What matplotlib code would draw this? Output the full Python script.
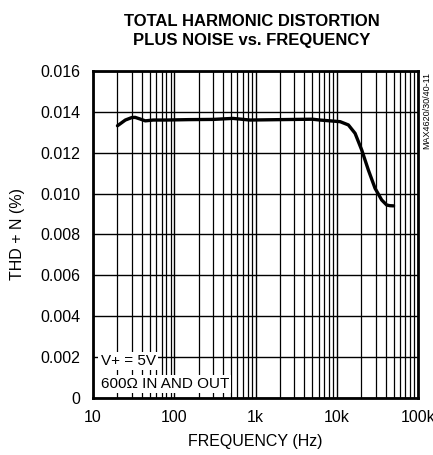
import matplotlib
matplotlib.use("Agg")
import matplotlib.pyplot as plt
import numpy as np

# ===== データ =====
freq_hz = [20, 25, 30, 33, 38, 44, 55, 80, 150, 300, 525, 855, 2000, 5000, 6200, 11000,
           13900, 16800, 20300, 24500, 29600, 35700, 41200, 45000, 50000]
thd_pct = [0.01332, 0.01360, 0.01372, 0.01373, 0.01365, 0.01356, 0.01360, 0.01360, 0.01362,
           0.01363, 0.01368, 0.01360, 0.01362, 0.01364, 0.01360, 0.01352,
           0.01336, 0.01295, 0.01213, 0.01115, 0.01026, 0.00969, 0.00944, 0.00941, 0.00940]
x_ticks = [10, 100, 1000, 10000, 100000]
x_labels = ["10", "100", "1k", "10k", "100k"]
y_ticks = [0, 0.002, 0.004, 0.006, 0.008, 0.010, 0.012, 0.014, 0.016]
y_labels = ["0", "0.002", "0.004", "0.006", "0.008", "0.010", "0.012", "0.014", "0.016"]

plt.rcParams["font.family"] = ["Liberation Sans", "DejaVu Sans"]

fig = plt.figure(figsize=(4.33, 4.55), dpi=100)
ax = fig.add_axes([0.2148, 0.1253, 0.7506, 0.7187])

ax.plot(freq_hz, thd_pct, color="black", lw=2.4, solid_capstyle="round", zorder=3)

ax.set_xscale("log")
ax.set_xlim(10, 100000)
ax.set_ylim(0, 0.016)
ax.set_xticks(x_ticks)
ax.set_xticklabels(x_labels)
ax.set_yticks(y_ticks)
ax.set_yticklabels(y_labels)
ax.xaxis.set_minor_locator(matplotlib.ticker.LogLocator(base=10, subs=np.arange(2, 10)))
ax.xaxis.set_minor_formatter(matplotlib.ticker.NullFormatter())

ax.grid(True, which="major", color="black", lw=1.0)
ax.grid(True, which="minor", axis="x", color="black", lw=0.9)
ax.tick_params(which="both", length=0, labelsize=11.5, pad=9)
for s in ax.spines.values():
    s.set_linewidth(2)

ax.set_xlabel("FREQUENCY (Hz)", fontsize=11.5, labelpad=6)
ax.set_ylabel("THD + N (%)", fontsize=11.5, labelpad=11)

fig.text(0.582, 0.932, "TOTAL HARMONIC DISTORTION\nPLUS NOISE vs. FREQUENCY",
         ha="center", va="center", fontsize=12, fontweight="bold", linespacing=1.4)
fig.text(0.985, 0.842, "MAX4620/30/40-11", rotation=90, ha="center", va="top", fontsize=6.5)

ax.text(12.4, 0.0018, "V+ = 5V", fontsize=11, va="center", ha="left", zorder=4,
        bbox=dict(facecolor="white", edgecolor="none", pad=1.5))
ax.text(12.4, 0.0007, "600Ω IN AND OUT", fontsize=11, va="center", ha="left", zorder=4,
        bbox=dict(facecolor="white", edgecolor="none", pad=1.5))

fig.savefig("out.png", dpi=100)
